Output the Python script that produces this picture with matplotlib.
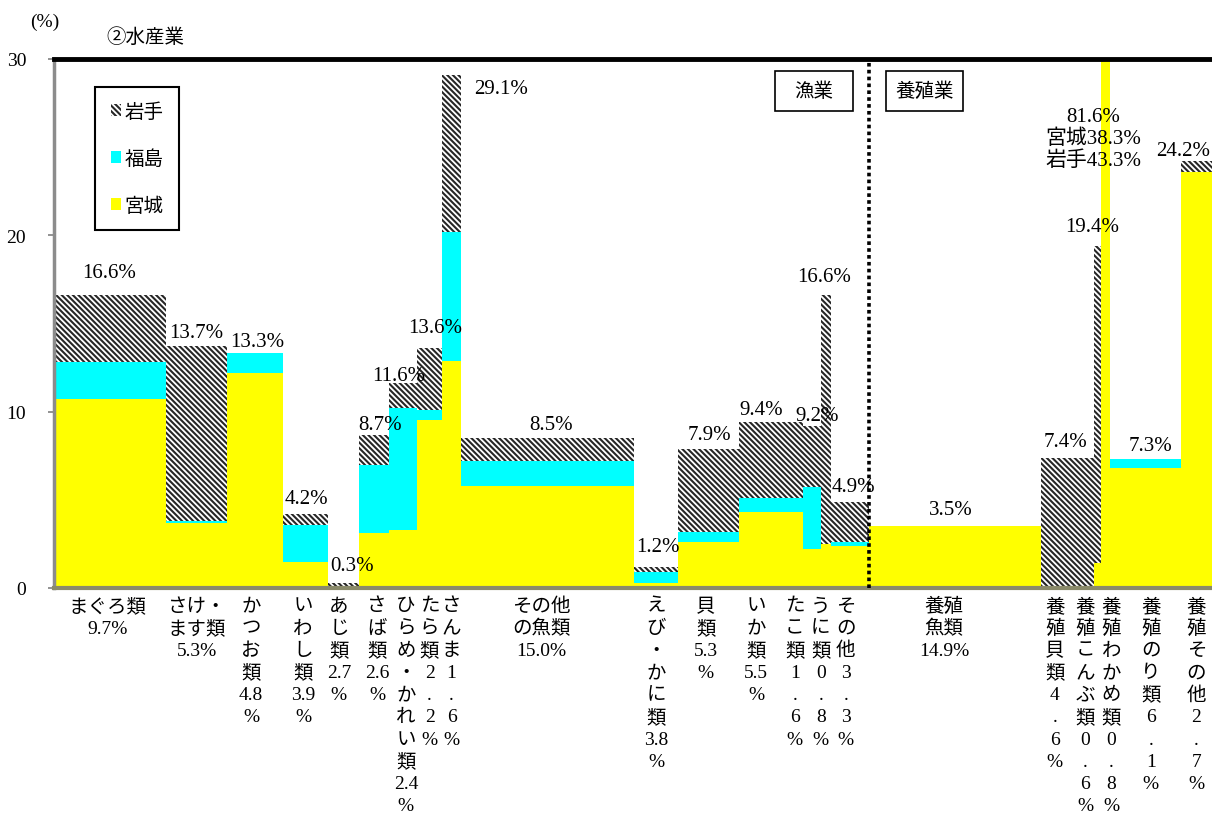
import matplotlib
matplotlib.use("Agg")
import matplotlib.pyplot as plt
from matplotlib.patches import Patch, Rectangle
import numpy as np

plt.rcParams['font.family'] = ['Liberation Serif', 'Noto Sans CJK JP', 'DejaVu Sans']
plt.rcParams['hatch.linewidth'] = 1.5

# 品目別の構成比（棒の幅）と県別の割合（棒の高さ, %）
categories = ["まぐろ類", "さけ・ます類", "かつお類", "いわし類", "あじ類", "さば類",
              "ひらめ・かれい類", "たら類", "さんま", "その他の魚類", "えび・かに類",
              "貝類", "いか類", "たこ類", "うに類", "その他",
              "養殖魚類", "養殖貝類", "養殖こんぶ類", "養殖わかめ類", "養殖のり類", "養殖その他"]
tick_labels = [
    "まぐろ類\n9.7%", "さけ・\nます類\n5.3%", "か\nつ\nお\n類\n4.8\n%", "い\nわ\nし\n類\n3.9\n%",
    "あ\nじ\n類\n2.7\n%", "さ\nば\n類\n2.6\n%", "ひ\nら\nめ\n・\nか\nれ\nい\n類\n2.4\n%",
    "た\nら\n類\n2\n.\n2\n%", "さ\nん\nま\n1\n.\n6\n%", "その他\nの魚類\n15.0%",
    "え\nび\n・\nか\nに\n類\n3.8\n%", "貝\n類\n5.3\n%", "い\nか\n類\n5.5\n%",
    "た\nこ\n類\n1\n.\n6\n%", "う\nに\n類\n0\n.\n8\n%", "そ\nの\n他\n3\n.\n3\n%",
    "養殖\n魚類\n14.9%", "養\n殖\n貝\n類\n4\n.\n6\n%", "養\n殖\nこ\nん\nぶ\n類\n0\n.\n6\n%",
    "養\n殖\nわ\nか\nめ\n類\n0\n.\n8\n%", "養\n殖\nの\nり\n類\n6\n.\n1\n%",
    "養\n殖\nそ\nの\n他\n2\n.\n7\n%"]
shares = [9.7, 5.3, 4.8, 3.9, 2.7, 2.6, 2.4, 2.2, 1.6, 15.0, 3.8,
          5.3, 5.5, 1.6, 0.8, 3.3, 14.9, 4.6, 0.6, 0.8, 6.1, 2.7]
miyagi = [10.7, 3.7, 12.2, 1.5, 0.1, 3.1, 3.3, 9.5, 12.9, 5.8, 0.3,
          2.6, 4.3, 2.2, 2.5, 2.4, 3.5, 0.0, 1.4, 38.3, 6.8, 23.6]
fukushima = [2.1, 0.1, 1.1, 2.1, 0.0, 3.9, 6.9, 0.6, 7.3, 1.4, 0.6,
             0.6, 0.8, 3.5, 0.0, 0.2, 0.0, 0.0, 0.0, 0.0, 0.5, 0.0]
iwate = [3.8, 9.9, 0.0, 0.6, 0.2, 1.7, 1.4, 3.5, 8.9, 1.3, 0.3,
         4.7, 4.3, 3.5, 14.1, 2.3, 0.0, 7.4, 18.0, 43.3, 0.0, 0.6]
n_fishery = 16          # 先頭16品目が漁業、残りが養殖業
special_idx = 19        # 養殖わかめ類（軸上限を超える）

# ラベル位置の微調整（データ単位）
value_dx = [-0.1, 0, 0.15, 0.05, 0.77, 0.55, -0.4, 0.46, 4.27, 0.35, 0.17,
            0.1, -0.9, 0.45, -0.2, 0.35, -0.35, -0.16, -0.47, -1.1, 0.45, -1.19]
value_dy = [1.3, 0.8, 0.7, 0.85, 0.96, 0.6, 0.43, 1.2, -0.8, 0.8, 1.13,
            0.83, 0.75, 0.56, 1.04, 0.83, 0.94, 0.88, 1.08, 0, 0.77, 0.6]
tick_dx = [-0.25, 0, -0.35, -0.2, -0.4, 0.25, 0.25, 0, 0, -0.5, 0,
           -0.25, -1.3, -1.5, -0.45, -0.35, -0.95, -1.1, -1.05, 0.5, 0.45, 0]

shares_a = np.array(shares)
m = np.array(miyagi)
f = np.array(fukushima)
iw = np.array(iwate)
lefts = np.cumsum(shares_a) - shares_a
centers = lefts + shares_a / 2
totals = m + f + iw

W, H = 1212, 820
fig = plt.figure(figsize=(W / 100, H / 100), dpi=100)
ax = fig.add_axes([54 / W, 1 - 589 / H, 1 - 54 / W, (589 - 60) / H])

YELLOW = "#FFFF00"
CYAN = "#00FFFF"
HATCH_C = "#262626"
HATCH = "\\" * 6

ax.bar(lefts, m, width=shares_a, align="edge", color=YELLOW, linewidth=0)
ax.bar(lefts, f, width=shares_a, bottom=m, align="edge", color=CYAN, linewidth=0)
ax.bar(lefts, iw, width=shares_a, bottom=m + f, align="edge", facecolor="white",
       edgecolor=HATCH_C, linewidth=0, hatch=HATCH)

ax.set_xlim(0, shares_a.sum())
ax.set_ylim(0, 30)
ax.set_yticks([0, 10, 20, 30])
ax.set_xticks([])
ax.tick_params(axis="y", length=4, width=1.2, color="#808080", pad=16, labelsize=14)

ax.spines["right"].set_visible(False)
ax.spines["top"].set_linewidth(3.5)
ax.spines["top"].set_color("black")
ax.spines["left"].set_linewidth(2.5)
ax.spines["left"].set_color("#8c8c8c")
ax.spines["bottom"].set_linewidth(3)
ax.spines["bottom"].set_color("#8a8a6a")

# 漁業と養殖業の境界
boundary = shares_a[:n_fishery].sum()
ax.plot([boundary, boundary], [0, 30], color="black", linewidth=2.6,
        linestyle=(0, (1, 0.9)), zorder=5, clip_on=False)

# 棒ごとの合計値
VAL_FS = 15
for i in range(len(shares)):
    if i == special_idx:
        lines = [f"{totals[i]:.1f}%", f"宮城{m[i]:.1f}%", f"岩手{iw[i]:.1f}%"]
        for k, line in enumerate(lines):
            ax.annotate(line, xy=(centers[i] + value_dx[i], 25.5), xytext=(0, 22 - 22 * k),
                        textcoords="offset pixels", ha="center", va="center",
                        fontsize=VAL_FS, zorder=6)
    else:
        ax.text(centers[i] + value_dx[i], totals[i] + value_dy[i], f"{totals[i]:.1f}%",
                ha="center", va="center", fontsize=VAL_FS, zorder=6)

# 品目名（縦書き風に1行ずつ配置）
for i, lab in enumerate(tick_labels):
    for k, line in enumerate(lab.split("\n")):
        ax.annotate(line, xy=(centers[i] + tick_dx[i], 0), xycoords=("data", "axes fraction"),
                    xytext=(0, -18 - 22.2 * k), textcoords="offset pixels",
                    ha="center", va="center", fontsize=14, annotation_clip=False)

# 区分の見出し
px_x = shares_a.sum() / (W - 54)
px_y = 30 / (589 - 60)
y_box = (589 - 112) * px_y
h_box = 40 * px_y
for x0, wpx, label in [(boundary - (16 + 78) * px_x, 78, "漁業"),
                       (boundary + 17 * px_x, 77, "養殖業")]:
    ax.add_patch(Rectangle((x0, y_box), wpx * px_x, h_box, facecolor="white",
                           edgecolor="black", linewidth=1.2, zorder=6))
    ax.text(x0 + wpx * px_x / 2, y_box + h_box / 2, label, ha="center", va="center",
            fontsize=14, zorder=7)

# 凡例
handles = [Patch(facecolor="white", edgecolor=HATCH_C, linewidth=0, hatch=HATCH, label="岩手"),
           Patch(facecolor=CYAN, linewidth=0, label="福島"),
           Patch(facecolor=YELLOW, linewidth=0, label="宮城")]
leg = fig.legend(handles=handles, loc="upper left", bbox_to_anchor=(95 / W, 1 - 88 / H),
                 borderaxespad=0, fancybox=False, framealpha=1, edgecolor="black",
                 fontsize=14, handlelength=0.55, handleheight=0.55, handletextpad=0.15,
                 labelspacing=1.45, borderpad=0.8)
leg.get_frame().set_linewidth(1.5)

fig.text(45 / W, 1 - 22 / H, "(%)", ha="center", va="center", fontsize=14)
fig.text(145 / W, 1 - 38 / H, "②水産業", ha="center", va="center", fontsize=14)

fig.savefig("out.png", dpi=100)
